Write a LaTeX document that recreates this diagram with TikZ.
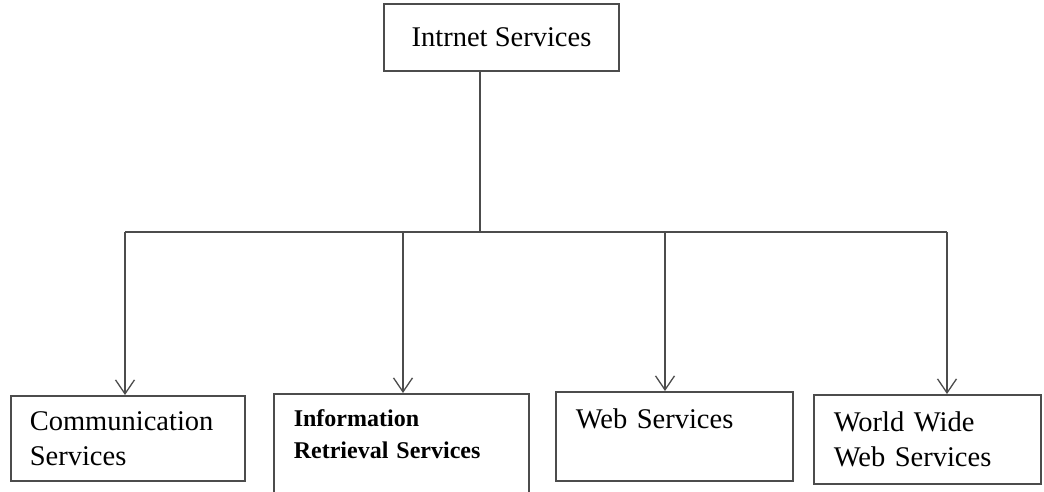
\documentclass[tikz,border=0pt]{standalone}
\usepackage{fontspec}
\setmainfont{Liberation Serif}
\usetikzlibrary{arrows.meta,positioning}

\begin{document}
\begin{tikzpicture}[x=1pt,y=-1pt,
  svc/.style={draw=black!70, line width=1.6pt, rectangle, anchor=north west, align=left,
    inner xsep=19pt, inner ysep=0pt, font=\fontsize{28.5}{35}\selectfont},
  link/.style={color=black!70, line width=1.3pt},
  tip/.style={-{Straight Barb[length=14pt,width=19pt,line width=1.3pt]}}]
  \useasboundingbox (0,0) rectangle (1044,491);

  \node[svc, anchor=center, align=center, minimum width=235, minimum height=67](Top) at (501.5,37.5){Intrnet Services};
  \node[svc, minimum width=234, minimum height=85, text width=196](Comm) at (10,395){Communication\\Services};
  \node[svc, minimum width=255, minimum height=112, text width=215,
        font=\bfseries\fontsize{24}{32}\selectfont](Info) at (273,393){Information\\Retrieval Services\\~};
  \node[svc, minimum width=237, minimum height=89, text width=197](Web) at (555,391){Web Services\\~};
  \node[svc, minimum width=227, minimum height=89, text width=187](WWW) at (813,394){World Wide\\Web Services};

  \coordinate (Hub) at (480,232);
  \coordinate (B1) at (125,232);
  \coordinate (B2) at (403,232);
  \coordinate (B3) at (665,232);
  \coordinate (B4) at (947,232);

  \draw[link] (Top.south -| Hub) -- (Hub);
  \draw[link] (B1) -- (B4);
  \path
  (B1) edge[link, tip] (B1 |- Comm.north)
  (B2) edge[link, tip] (B2 |- Info.north)
  (B3) edge[link, tip] (B3 |- Web.north)
  (B4) edge[link, tip] (B4 |- WWW.north);
\end{tikzpicture}
\end{document}
